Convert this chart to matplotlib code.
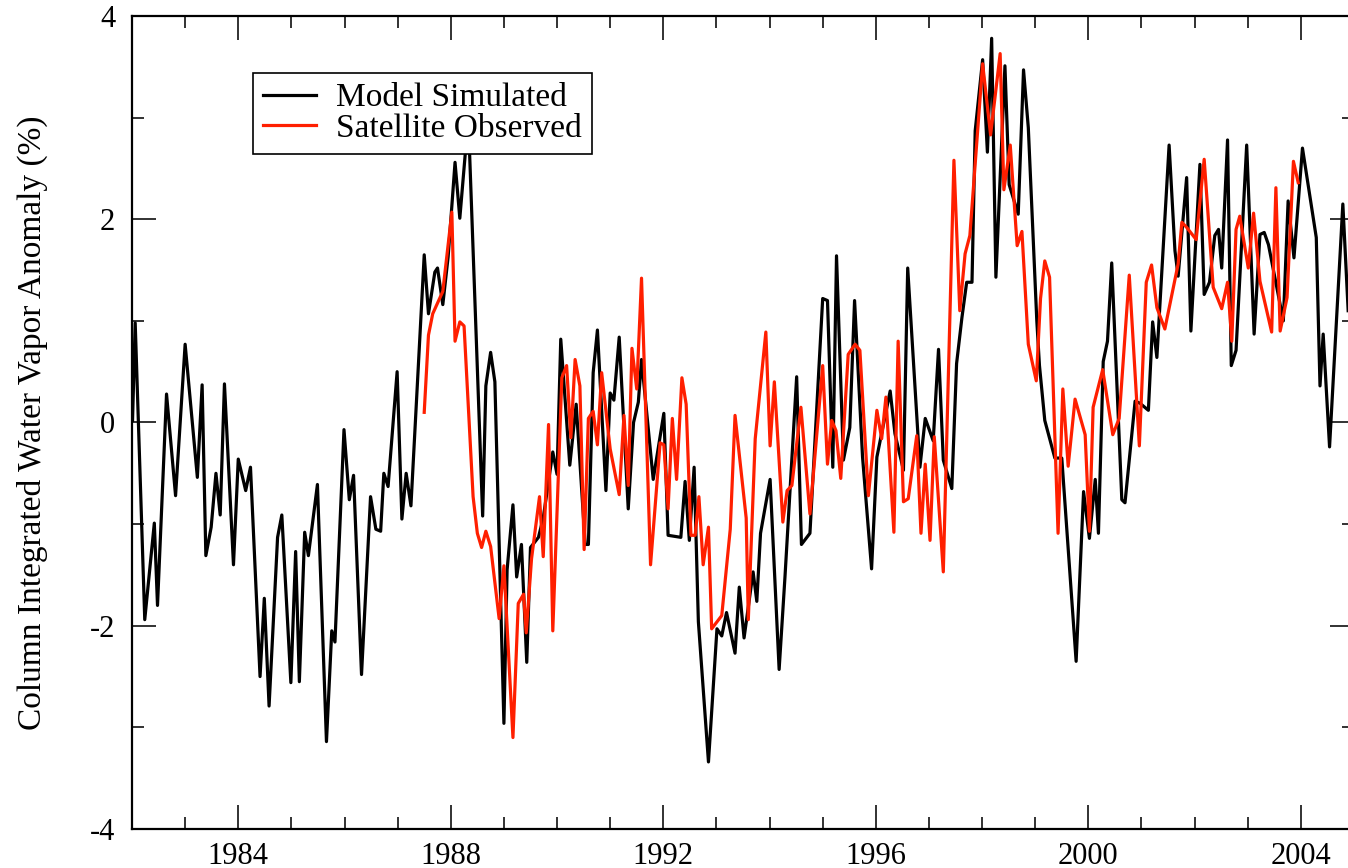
import matplotlib
matplotlib.use("Agg")
import matplotlib.pyplot as plt
from matplotlib.ticker import MultipleLocator

plt.rcParams['font.family'] = ['Liberation Serif', 'DejaVu Serif']
plt.rcParams['axes.unicode_minus'] = False

# ---- data (decimal year, anomaly %) ----
model_years = [
    1982.01, 1982.06, 1982.24, 1982.42, 1982.48, 1982.65, 1982.82, 1983.00, 1983.23, 1983.32,
    1983.39, 1983.49, 1983.58, 1983.66, 1983.74, 1983.91, 1984.00, 1984.14, 1984.23, 1984.41,
    1984.49, 1984.58, 1984.74, 1984.82, 1984.99, 1985.08, 1985.15, 1985.25, 1985.32, 1985.49,
    1985.66, 1985.76, 1985.82, 1985.99, 1986.09, 1986.17, 1986.32, 1986.49, 1986.59, 1986.68,
    1986.74, 1986.82, 1986.99, 1987.08, 1987.16, 1987.25, 1987.50, 1987.58, 1987.70, 1987.75,
    1987.85, 1987.95, 1988.08, 1988.17, 1988.33, 1988.60, 1988.66, 1988.75, 1988.83, 1989.00,
    1989.06, 1989.17, 1989.24, 1989.33, 1989.43, 1989.50, 1989.65, 1989.74, 1989.92, 1990.00,
    1990.07, 1990.24, 1990.36, 1990.53, 1990.59, 1990.68, 1990.76, 1990.92, 1991.00, 1991.07,
    1991.17, 1991.34, 1991.44, 1991.53, 1991.59, 1991.81, 1992.01, 1992.09, 1992.33, 1992.41,
    1992.49, 1992.58, 1992.66, 1992.85, 1993.01, 1993.10, 1993.19, 1993.35, 1993.43, 1993.52,
    1993.69, 1993.76, 1993.83, 1994.01, 1994.18, 1994.29, 1994.51, 1994.60, 1994.76, 1995.00,
    1995.09, 1995.19, 1995.26, 1995.39, 1995.51, 1995.60, 1995.75, 1995.92, 1996.02, 1996.27,
    1996.36, 1996.52, 1996.60, 1996.83, 1996.93, 1997.08, 1997.18, 1997.27, 1997.43, 1997.52,
    1997.62, 1997.71, 1997.81, 1997.87, 1998.01, 1998.10, 1998.18, 1998.26, 1998.43, 1998.51,
    1998.68, 1998.78, 1998.87, 1999.03, 1999.08, 1999.18, 1999.37, 1999.50, 1999.77, 1999.91,
    2000.02, 2000.13, 2000.19, 2000.28, 2000.36, 2000.44, 2000.63, 2000.69, 2000.88, 2000.97,
    2001.13, 2001.21, 2001.29, 2001.52, 2001.63, 2001.69, 2001.85, 2001.93, 2002.10, 2002.18,
    2002.28, 2002.38, 2002.45, 2002.51, 2002.62, 2002.69, 2002.78, 2002.98, 2003.12, 2003.23,
    2003.31, 2003.39, 2003.67, 2003.76, 2003.87, 2004.03, 2004.29, 2004.36, 2004.42, 2004.54,
    2004.79, 2004.89,
]
model_values = [
    0.02, 0.98, -1.94, -0.99, -1.80, 0.28, -0.72, 0.77, -0.54, 0.37,
    -1.31, -1.03, -0.50, -0.91, 0.38, -1.40, -0.36, -0.67, -0.44, -2.50,
    -1.73, -2.79, -1.13, -0.91, -2.56, -1.27, -2.55, -1.08, -1.31, -0.61,
    -3.14, -2.05, -2.16, -0.07, -0.76, -0.52, -2.48, -0.73, -1.05, -1.07,
    -0.50, -0.63, 0.50, -0.95, -0.50, -0.82, 1.65, 1.07, 1.48, 1.52,
    1.16, 1.63, 2.56, 2.01, 3.00, -0.92, 0.36, 0.69, 0.40, -2.96,
    -1.45, -0.81, -1.52, -1.20, -2.36, -1.23, -1.13, -0.94, -0.29, -0.51,
    0.82, -0.42, 0.18, -1.20, -1.20, 0.49, 0.91, -0.67, 0.29, 0.22,
    0.84, -0.85, 0.00, 0.20, 0.62, -0.56, 0.09, -1.11, -1.13, -0.58,
    -1.16, -0.44, -1.96, -3.34, -2.03, -2.10, -1.87, -2.27, -1.62, -2.12,
    -1.47, -1.76, -1.09, -0.56, -2.43, -1.52, 0.45, -1.20, -1.09, 1.22,
    1.20, -0.44, 1.64, -0.37, -0.05, 1.20, -0.34, -1.44, -0.34, 0.31,
    -0.11, -0.47, 1.52, -0.44, 0.04, -0.18, 0.72, -0.37, -0.65, 0.58,
    1.03, 1.38, 1.38, 2.87, 3.57, 2.66, 3.78, 1.43, 3.51, 2.34,
    2.05, 3.47, 2.90, 1.00, 0.56, 0.02, -0.35, -0.35, -2.35, -0.68,
    -1.14, -0.56, -1.09, 0.60, 0.80, 1.57, -0.76, -0.79, 0.21, 0.19,
    0.12, 0.99, 0.64, 2.73, 1.69, 1.44, 2.41, 0.90, 2.54, 1.26,
    1.38, 1.84, 1.90, 1.52, 2.78, 0.56, 0.71, 2.73, 0.87, 1.85,
    1.87, 1.75, 1.00, 2.18, 1.62, 2.70, 1.82, 0.36, 0.87, -0.24,
    2.15, 1.10,
]

satellite_years = [
    1987.50, 1987.58, 1987.66, 1987.85, 1988.02, 1988.08, 1988.17, 1988.25, 1988.42, 1988.50,
    1988.58, 1988.66, 1988.75, 1988.91, 1989.00, 1989.17, 1989.27, 1989.37, 1989.42, 1989.52,
    1989.67, 1989.74, 1989.84, 1989.92, 1990.09, 1990.18, 1990.26, 1990.34, 1990.43, 1990.51,
    1990.59, 1990.68, 1990.76, 1990.84, 1991.00, 1991.17, 1991.26, 1991.34, 1991.41, 1991.50,
    1991.59, 1991.76, 1991.94, 1992.01, 1992.09, 1992.17, 1992.25, 1992.35, 1992.43, 1992.52,
    1992.60, 1992.67, 1992.75, 1992.85, 1992.91, 1993.10, 1993.26, 1993.35, 1993.56, 1993.60,
    1993.73, 1993.93, 1994.01, 1994.09, 1994.25, 1994.33, 1994.42, 1994.59, 1994.76, 1995.00,
    1995.09, 1995.17, 1995.25, 1995.34, 1995.48, 1995.61, 1995.70, 1995.86, 1996.02, 1996.11,
    1996.19, 1996.34, 1996.42, 1996.52, 1996.61, 1996.77, 1996.85, 1996.93, 1997.02, 1997.10,
    1997.27, 1997.47, 1997.58, 1997.68, 1997.77, 1998.01, 1998.16, 1998.34, 1998.41, 1998.53,
    1998.66, 1998.75, 1998.87, 1999.02, 1999.10, 1999.18, 1999.27, 1999.43, 1999.52, 1999.62,
    1999.75, 1999.94, 2000.02, 2000.09, 2000.27, 2000.46, 2000.58, 2000.77, 2000.96, 2001.09,
    2001.19, 2001.29, 2001.44, 2001.69, 2001.76, 2001.85, 2002.03, 2002.18, 2002.35, 2002.51,
    2002.62, 2002.70, 2002.78, 2002.85, 2003.01, 2003.11, 2003.23, 2003.45, 2003.53, 2003.61,
    2003.74, 2003.86, 2003.95,
]
satellite_values = [
    0.10, 0.86, 1.07, 1.29, 2.07, 0.80, 0.99, 0.95, -0.73, -1.09,
    -1.23, -1.07, -1.22, -1.93, -1.41, -3.10, -1.78, -1.69, -2.07, -1.34,
    -0.73, -1.32, -0.02, -2.05, 0.44, 0.56, -0.15, 0.62, 0.36, -1.25,
    0.04, 0.11, -0.22, 0.49, -0.26, -0.71, 0.07, -0.62, 0.73, 0.33,
    1.42, -1.40, -0.20, -0.22, -0.85, 0.04, -0.56, 0.44, 0.18, -1.11,
    -1.11, -0.73, -1.40, -1.03, -2.03, -1.90, -1.05, 0.07, -0.94, -1.94,
    -0.16, 0.89, -0.23, 0.40, -0.98, -0.67, -0.62, 0.15, -0.90, 0.56,
    -0.41, 0.02, -0.08, -0.55, 0.67, 0.77, 0.71, -0.72, 0.12, -0.16,
    0.25, -1.08, 0.80, -0.78, -0.75, -0.13, -1.09, -0.41, -1.16, -0.14,
    -1.47, 2.58, 1.10, 1.66, 1.84, 3.53, 2.83, 3.63, 2.29, 2.73,
    1.74, 1.88, 0.77, 0.41, 1.22, 1.59, 1.43, -1.09, 0.33, -0.43,
    0.23, -0.12, -1.07, 0.15, 0.52, -0.12, 0.04, 1.45, -0.23, 1.38,
    1.55, 1.13, 0.92, 1.56, 1.97, 1.92, 1.80, 2.59, 1.33, 1.12,
    1.38, 0.80, 1.90, 2.03, 1.52, 2.06, 1.39, 0.89, 2.31, 0.90,
    1.23, 2.57, 2.36,
]

series_labels = ["Model Simulated", "Satellite Observed"]
y_label = "Column Integrated Water Vapor Anomaly (%)"

# ---- figure ----
W, H = 1348, 868
fig = plt.figure(figsize=(W / 100, H / 100), dpi=100)
ax = fig.add_axes([132 / W, 39 / H, 1222 / W, 813 / H])

ax.plot(model_years, model_values, color='black', lw=2.3, label=series_labels[0], zorder=2)
ax.plot(satellite_years, satellite_values, color='#ff1f00', lw=2.3, label=series_labels[1], zorder=3)

ax.set_xlim(1982, 2005)
ax.set_ylim(-4, 4)
ax.xaxis.set_major_locator(MultipleLocator(4))
ax.xaxis.set_minor_locator(MultipleLocator(1))
ax.yaxis.set_major_locator(MultipleLocator(2))
ax.yaxis.set_minor_locator(MultipleLocator(1))

ax.tick_params(which='both', direction='in', top=True, right=True, color='#222222', width=1.3)
ax.tick_params(which='major', length=17, labelsize=22)
ax.tick_params(axis='x', which='major', pad=9)
ax.tick_params(axis='y', which='major', pad=12)
ax.tick_params(which='minor', length=8.5)
for sp in ax.spines.values():
    sp.set_linewidth(1.6)

ax.set_ylabel(y_label, fontsize=24)
ax.yaxis.set_label_coords(-0.069, 0.5)

leg = ax.legend(loc='upper left', bbox_to_anchor=(253 / W, 1 - 73 / H),
                bbox_transform=fig.transFigure, frameon=True, fancybox=False,
                edgecolor='black', framealpha=1, borderaxespad=0, borderpad=0.3,
                labelspacing=0.0, handlelength=1.6, handletextpad=0.6, fontsize=24)
leg.get_frame().set_linewidth(1.2)
leg.set_zorder(10)

fig.savefig('out.png', dpi=100)
